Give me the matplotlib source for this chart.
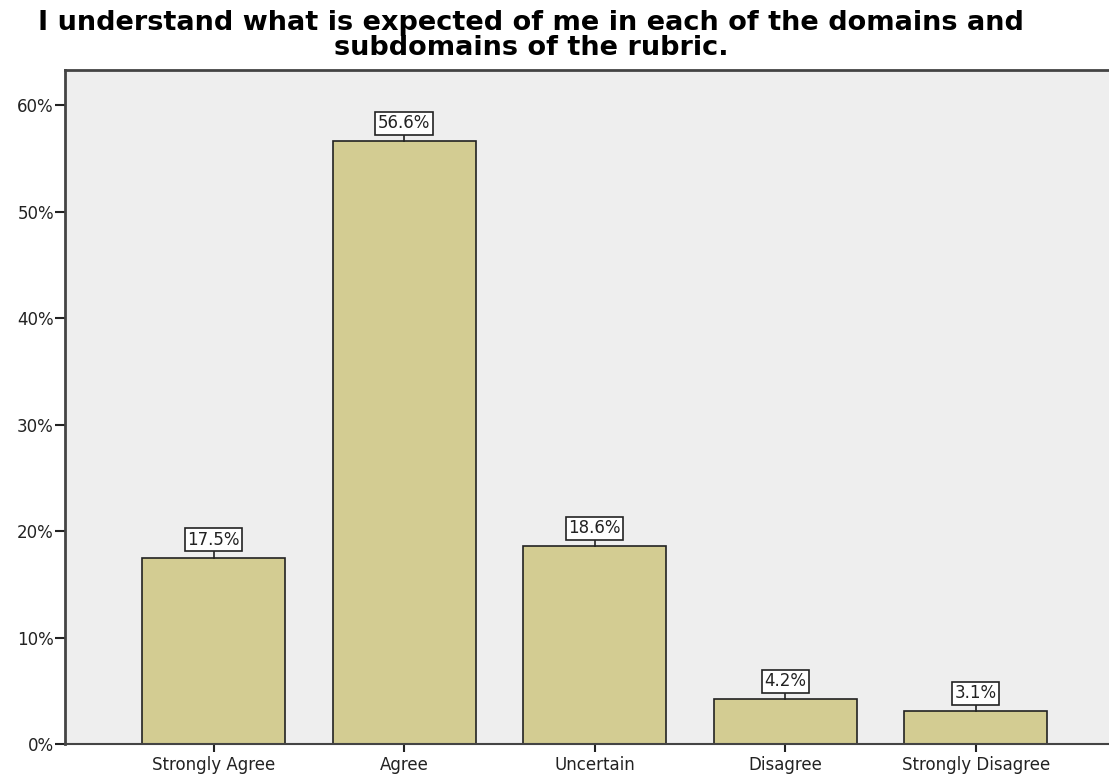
import numpy as np
import matplotlib.pyplot as plt
from matplotlib.ticker import FuncFormatter

categories = ['Strongly Agree', 'Agree', 'Uncertain', 'Disagree', 'Strongly Disagree']
percents = [17.5, 56.6, 18.6, 4.2, 3.1]
title = 'I understand what is expected of me in each of the domains and\nsubdomains of the rubric.'

fig = plt.figure(figsize=(11.09, 7.81), dpi=100)
ax = fig.add_axes([0.0586, 0.0474, 0.95, 0.863])
ax.set_facecolor('#eeeeee')

x = np.arange(len(categories))
ax.bar(x, percents, width=0.75, color='#d3cc92', edgecolor='#222222', linewidth=1.2, zorder=2)

# value labels in small white boxes, joined to the bar by a short stem
for xi, p in zip(x, percents):
    ax.plot([xi, xi], [p, p + 0.5], color='#222222', lw=1.2, zorder=3)
    ax.annotate(f'{p:.1f}%', xy=(xi, p + 0.5), xytext=(0, 9), textcoords='offset points',
                ha='center', va='center', fontsize=12, color='#222222',
                bbox=dict(boxstyle='square,pad=0.15', fc='white', ec='#222222', lw=1.2), zorder=4)

ax.set_xlim(-0.78, 4.75)
ax.set_ylim(0, 63.3)
ax.set_yticks(np.arange(0, 61, 10))
ax.yaxis.set_major_formatter(FuncFormatter(lambda v, _: f'{v:.0f}%'))
ax.set_xticks(x)
ax.set_xticklabels(categories)
ax.tick_params(axis='both', labelsize=12, colors='#222222', width=1.5, direction='out')
ax.tick_params(axis='y', length=7, pad=1)
ax.tick_params(axis='x', length=6, pad=3)

for side in ['top', 'left']:
    ax.spines[side].set_color('#444444')
    ax.spines[side].set_linewidth(2)
ax.spines['bottom'].set_color('#444444')
ax.spines['bottom'].set_linewidth(1.5)
ax.spines['right'].set_visible(False)

fig.text(0.479, 0.954, title, ha='center', va='center', fontsize=19.5, fontweight='bold',
         family='DejaVu Sans', linespacing=0.95)

fig.savefig('out.png', dpi=100)
